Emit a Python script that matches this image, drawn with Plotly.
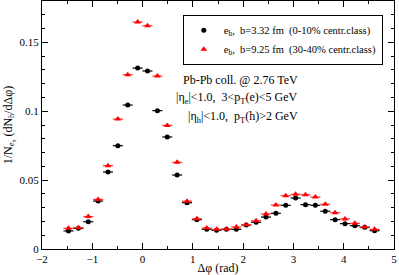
import plotly.graph_objects as go

dphi = [-1.473, -1.276, -1.080, -0.884, -0.687, -0.491, -0.295, -0.098,
        0.098, 0.295, 0.491, 0.687, 0.884, 1.080, 1.276, 1.473,
        1.669, 1.865, 2.062, 2.258, 2.454, 2.651, 2.847, 3.043,
        3.240, 3.436, 3.633, 3.829, 4.025, 4.222, 4.418, 4.614]

central = [0.0131, 0.0150, 0.0198, 0.0348, 0.0559, 0.0750, 0.1045, 0.1313,
           0.1292, 0.1004, 0.0813, 0.0537, 0.0336, 0.0213, 0.0143, 0.0136,
           0.0143, 0.0143, 0.0174, 0.0194, 0.0232, 0.0259, 0.0317, 0.0370,
           0.0322, 0.0317, 0.0274, 0.0213, 0.0184, 0.0169, 0.0157, 0.0133]

midcentral = [0.0150, 0.0155, 0.0235, 0.0360, 0.0605, 0.0943, 0.1265, 0.1647,
              0.1620, 0.1255, 0.0897, 0.0629, 0.0347, 0.0219, 0.0152, 0.0143,
              0.0145, 0.0160, 0.0176, 0.0205, 0.0254, 0.0319, 0.0387, 0.0397,
              0.0394, 0.0377, 0.0324, 0.0264, 0.0218, 0.0186, 0.0160, 0.0143]

xerr = [0.1] * len(dphi)

name_central = "e<sub>b</sub>,  b=3.32 fm  (0-10% centr.class)"
name_mid = "e<sub>b</sub>,  b=9.25 fm  (30-40% centr.class)"

font_family = "Liberation Serif"

fig = go.Figure()
fig.add_trace(go.Scatter(
    x=dphi, y=central, mode="markers", name=name_central,
    marker=dict(symbol="circle", size=5, color="black"),
    error_x=dict(type="data", array=xerr, color="black", thickness=1.2, width=0),
))
fig.add_trace(go.Scatter(
    x=dphi, y=midcentral, mode="markers", name=name_mid,
    marker=dict(symbol="triangle-up", size=6, color="red"),
    error_x=dict(type="data", array=xerr, color="#ff3030", thickness=1.2, width=0),
))

axis_common = dict(
    showline=True, linecolor="black", linewidth=1, mirror="allticks",
    ticks="inside", ticklen=6, tickcolor="black", tickwidth=1,
    showgrid=False, zeroline=False, automargin=False,
    tickfont=dict(family=font_family, size=11, color="black"),
)

fig.update_xaxes(
    range=[-2, 5], dtick=1, tick0=0,
    minor=dict(dtick=0.5, ticks="inside", ticklen=3, tickcolor="black"),
    title=dict(text="Δφ (rad)", font=dict(family=font_family, size=12, color="black"), standoff=2),
    **axis_common,
)
fig.update_yaxes(
    range=[0, 0.18],
    tickvals=[0, 0.05, 0.1, 0.15], ticktext=["0", "0.05", "0.1", "0.15"],
    minor=dict(tickvals=[0.01, 0.02, 0.03, 0.04, 0.06, 0.07, 0.08, 0.09,
                         0.11, 0.12, 0.13, 0.14, 0.16, 0.17],
               ticks="inside", ticklen=3, tickcolor="black"),
    title=dict(text="1/N<sub>e<sub>b</sub></sub> (dN<sub>h</sub>/dΔφ)",
               font=dict(family=font_family, size=12, color="black"), standoff=4),
    **axis_common,
)

ann_font = dict(family=font_family, size=12, color="black")
fig.add_annotation(x=0.733, y=0.681, xref="paper", yref="paper", showarrow=False,
                   yanchor="middle", text="Pb-Pb coll. @ 2.76 TeV", font=ann_font)
fig.add_annotation(x=0.733, y=0.609, xref="paper", yref="paper", showarrow=False,
                   yanchor="middle", text="|η<sub>e</sub>|<1.0,  3<p<sub>T</sub>(e)<5 GeV", font=ann_font)
fig.add_annotation(x=0.733, y=0.532, xref="paper", yref="paper", showarrow=False,
                   yanchor="middle", text="|η<sub>h</sub>|<1.0,  p<sub>T</sub>(h)>2 GeV", font=ann_font)

fig.update_layout(
    width=399, height=275, autosize=False,
    margin=dict(l=42, r=5, t=1, b=26, autoexpand=False),
    paper_bgcolor="white", plot_bgcolor="white",
    showlegend=True,
    legend=dict(x=0.40, y=0.945, xanchor="left", yanchor="top",
                bordercolor="black", borderwidth=1, bgcolor="white",
                font=dict(family=font_family, size=10.5, color="black"),
                itemwidth=30, tracegroupgap=0),
)

fig.write_html("out.html", config={"displayModeBar": False},
               post_script="document.body.style.margin='0';document.body.style.overflow='hidden';")
